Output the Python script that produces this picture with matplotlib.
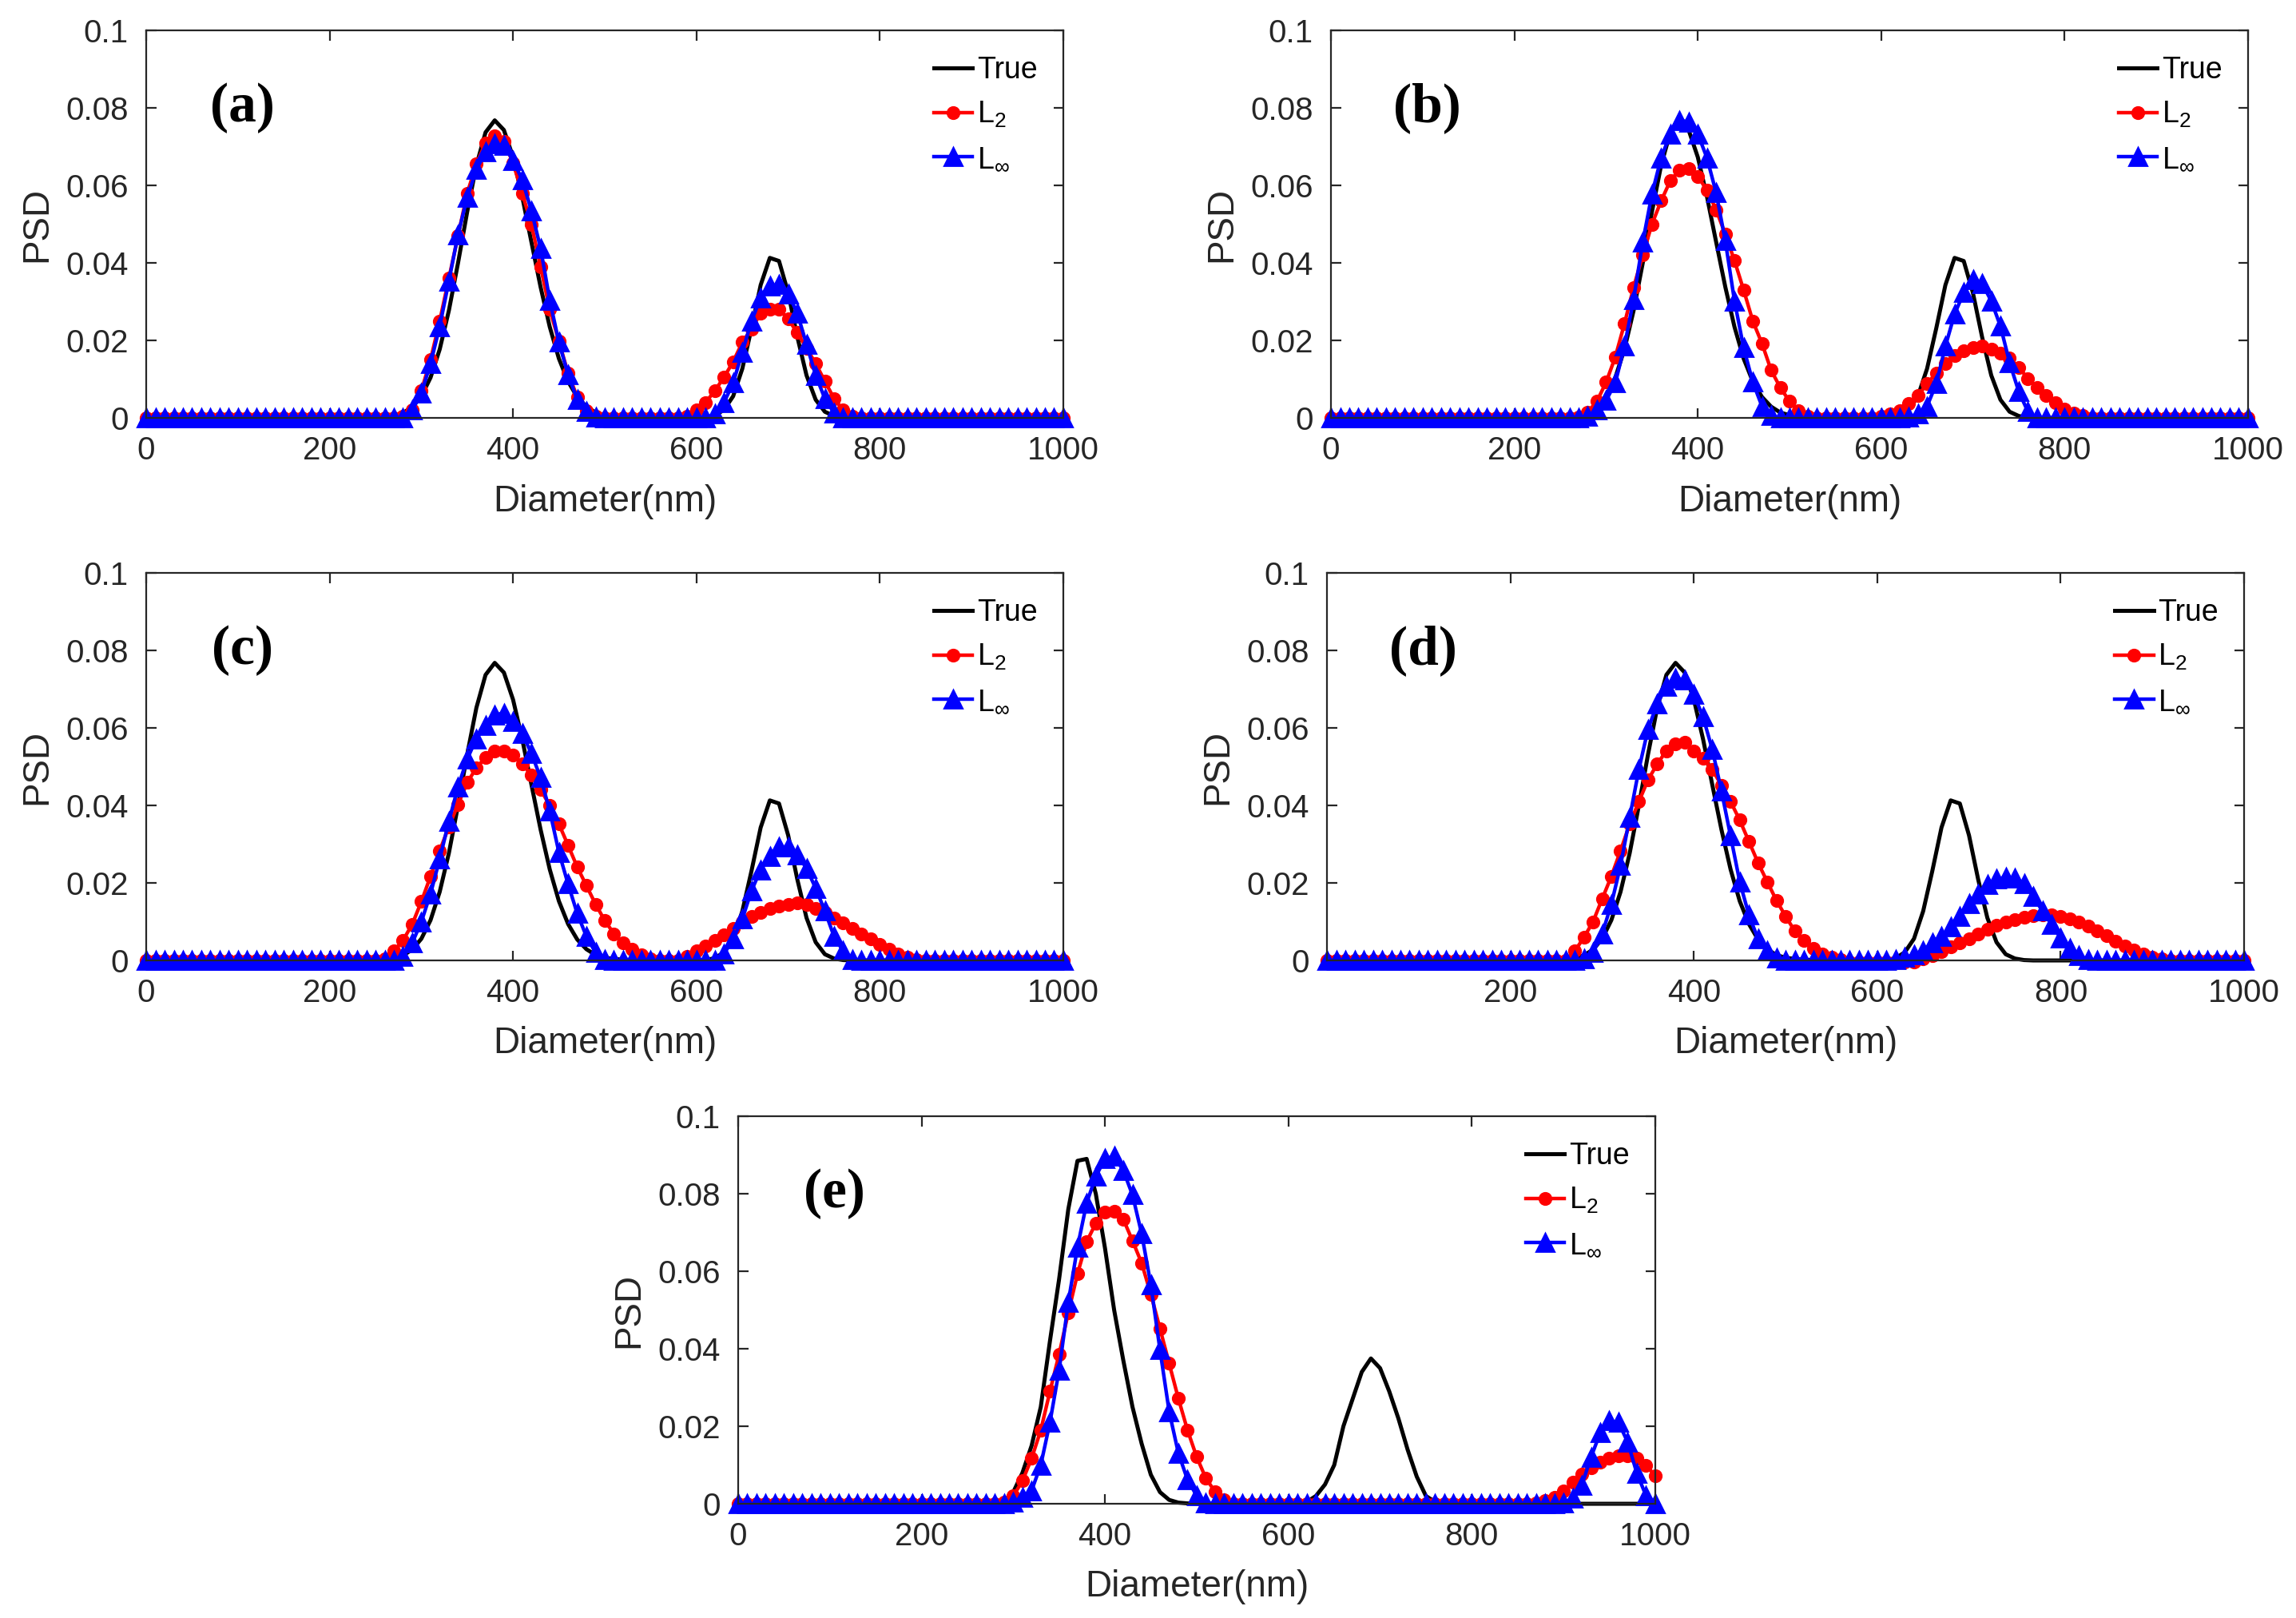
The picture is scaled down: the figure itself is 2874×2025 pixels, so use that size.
import matplotlib.pyplot as plt
import numpy as np

# diameter grid (nm), one point every 10 nm
diameter = np.arange(0, 1001, 10)

# True PSD, panels (a)-(d)
true_ad = ([0.0] * 26 +
           [0.0002, 0.0006, 0.0013, 0.0028, 0.0056, 0.0104, 0.0177, 0.0277, 0.0400, 0.0532,
            0.0652, 0.0737, 0.0768, 0.0743, 0.0673, 0.0571, 0.0454, 0.0338, 0.0235, 0.0153,
            0.0094, 0.0054, 0.0029, 0.0014, 0.0007, 0.0004, 0.0002, 0.0001] +
           [0.0] * 7 +
           [0.0001, 0.0006, 0.0021, 0.0056, 0.0127, 0.0231, 0.0343, 0.0413, 0.0405, 0.0323,
            0.0209, 0.0110, 0.0047, 0.0016, 0.0005, 0.0001] +
           [0.0] * 24)

# True PSD, panel (e)
true_e = ([0.0] * 28 +
          [0.0001, 0.0005, 0.0030, 0.0080, 0.0150, 0.0250, 0.0420, 0.0580, 0.0760, 0.0885,
           0.0890, 0.0800, 0.0660, 0.0500, 0.0370, 0.0250, 0.0155, 0.0075, 0.0030, 0.0010,
           0.0003, 0.0001] +
          [0.0] * 12 +
          [0.0005, 0.0020, 0.0050, 0.0100, 0.0200, 0.0270, 0.0340, 0.0375, 0.0350, 0.0290,
           0.0220, 0.0140, 0.0070, 0.0020, 0.0005] +
          [0.0] * 24)

# L2 inversion
l2_a = ([0.0] * 28 +
        [0.0005, 0.002, 0.007, 0.015, 0.025, 0.036, 0.047, 0.058, 0.0655, 0.071,
         0.0727, 0.0713, 0.0658, 0.058, 0.050, 0.039, 0.028, 0.0198, 0.0115, 0.0054,
         0.0018, 0.0004] +
        [0.0] * 9 +
        [0.0005, 0.002, 0.004, 0.007, 0.0105, 0.0145, 0.0195, 0.023, 0.027, 0.028,
         0.028, 0.0255, 0.022, 0.018, 0.014, 0.0095, 0.005, 0.002, 0.0005] +
        [0.0] * 23)

l2_b = ([0.0] * 27 +
        [0.0003, 0.0015, 0.0043, 0.0092, 0.0157, 0.0243, 0.0337, 0.042, 0.050, 0.056,
         0.0612, 0.064, 0.0643, 0.0623, 0.0588, 0.0537, 0.0474, 0.0406, 0.033, 0.025,
         0.0192, 0.0123, 0.0078, 0.0043, 0.0019, 0.0005] +
        [0.0] * 7 +
        [0.0005, 0.001, 0.0019, 0.0037, 0.0057, 0.0088, 0.0116, 0.014, 0.016, 0.0174,
         0.0181, 0.0185, 0.0178, 0.0168, 0.0154, 0.013, 0.0102, 0.0078, 0.0057, 0.004,
         0.0023, 0.0012, 0.0006] +
        [0.0] * 18)

l2_c = ([0.0] * 26 +
        [0.0005, 0.0024, 0.0052, 0.0093, 0.0152, 0.0217, 0.0283, 0.0345, 0.0403, 0.0459,
         0.0497, 0.0524, 0.0541, 0.0541, 0.0531, 0.0507, 0.0479, 0.0441, 0.040, 0.0352,
         0.0297, 0.0241, 0.0193, 0.0145, 0.0103, 0.0069, 0.0045, 0.0028, 0.0014, 0.0005] +
        [0.0] * 3 +
        [0.001, 0.0024, 0.0038, 0.0052, 0.0066, 0.0083, 0.010, 0.0114, 0.0124, 0.0134,
         0.0141, 0.0145, 0.0148, 0.0145, 0.0134, 0.0124, 0.011, 0.0097, 0.0083, 0.0069,
         0.0055, 0.0041, 0.0028, 0.0017, 0.0009, 0.0003] +
        [0.0] * 16)

l2_d = ([0.0] * 27 +
        [0.0024, 0.0059, 0.010, 0.0159, 0.0217, 0.0283, 0.0352, 0.041, 0.0466, 0.0507,
         0.0541, 0.0559, 0.0562, 0.0541, 0.0521, 0.0493, 0.0452, 0.041, 0.0362, 0.0307,
         0.0252, 0.0203, 0.0155, 0.0114, 0.0076, 0.0052, 0.0031, 0.0017, 0.0009, 0.0003] +
        [-0.0005] * 8 +
        [0.0004, 0.0012, 0.0022, 0.0035, 0.0045, 0.0056, 0.0068, 0.008, 0.009, 0.0099,
         0.0106, 0.0111, 0.0115, 0.0117, 0.0117, 0.0114, 0.0108, 0.0099, 0.0089, 0.0076,
         0.0064, 0.005, 0.0038, 0.0027, 0.0017, 0.0009, 0.0004] +
        [0.0] * 9)

l2_e = ([0.0] * 29 +
        [0.0005, 0.002, 0.0059, 0.0117, 0.019, 0.029, 0.0386, 0.0493, 0.0593, 0.0676,
         0.0724, 0.0752, 0.0755, 0.0734, 0.0679, 0.0621, 0.0541, 0.0452, 0.0362, 0.0272,
         0.019, 0.0121, 0.0066, 0.0031, 0.001] +
        [0.0] * 33 +
        [0.0003, 0.0008, 0.0017, 0.0034, 0.0055, 0.0076, 0.0093, 0.0107, 0.0117, 0.0124,
         0.0124, 0.0117, 0.010, 0.0072])

# L-infinity inversion
linf_a = ([0.0] * 29 +
          [0.002, 0.0064, 0.014, 0.0236, 0.0353, 0.0473, 0.0569, 0.0641, 0.0686, 0.0707,
           0.0703, 0.0665, 0.0614, 0.0535, 0.0438, 0.0304, 0.0195, 0.0112, 0.0047, 0.0016,
           0.0003] +
          [0.0] * 12 +
          [0.001, 0.004, 0.009, 0.017, 0.025, 0.031, 0.034, 0.0345, 0.032, 0.027,
           0.019, 0.011, 0.005, 0.0013] +
          [0.0] * 25)

linf_b = ([0.0] * 28 +
          [0.0005, 0.002, 0.0045, 0.009, 0.0185, 0.0306, 0.0454, 0.0578, 0.0671, 0.0733,
           0.0768, 0.0764, 0.0733, 0.0671, 0.0581, 0.0457, 0.0302, 0.0181, 0.0092, 0.003,
           0.0006] +
          [0.0] * 14 +
          [0.0003, 0.001, 0.003, 0.0088, 0.0185, 0.0268, 0.0323, 0.0357, 0.0347, 0.0302,
           0.0237, 0.0143, 0.0068, 0.0016] +
          [0.0] * 24)

linf_c = ([0.0] * 28 +
          [0.001, 0.0045, 0.010, 0.0172, 0.0262, 0.0359, 0.0448, 0.052, 0.0572, 0.0607,
           0.0634, 0.0638, 0.0617, 0.0586, 0.0534, 0.0472, 0.0386, 0.0279, 0.0197, 0.0121,
           0.0062, 0.002, 0.0003] +
          [0.0] * 12 +
          [0.0017, 0.0055, 0.0107, 0.018, 0.0234, 0.0269, 0.0293, 0.0293, 0.0272, 0.0238,
           0.0186, 0.0128, 0.0062, 0.0024, 0.0003] +
          [0.0] * 23)

linf_d = ([0.0] * 28 +
          [0.0005, 0.002, 0.0069, 0.0145, 0.0245, 0.0369, 0.0493, 0.0597, 0.0662, 0.0707,
           0.0728, 0.0724, 0.0686, 0.0628, 0.0545, 0.0438, 0.0321, 0.0203, 0.0117, 0.0055,
           0.0024, 0.0007] +
          [0.0] * 12 +
          [0.0003, 0.0008, 0.0015, 0.0024, 0.0045, 0.0062, 0.0086, 0.0114, 0.0147, 0.0172,
           0.0195, 0.021, 0.0214, 0.0212, 0.0198, 0.0165, 0.0128, 0.0093, 0.0058, 0.003,
           0.0012, 0.0003] +
          [0.0] * 17)

linf_e = ([0.0] * 30 +
          [0.0005, 0.0017, 0.0034, 0.010, 0.021, 0.0345, 0.052, 0.0662, 0.0776, 0.0845,
           0.089, 0.0897, 0.086, 0.0797, 0.0697, 0.0566, 0.0397, 0.0238, 0.0131, 0.0062,
           0.0021, 0.0003] +
          [0.0] * 38 +
          [0.0003, 0.0014, 0.0048, 0.012, 0.0183, 0.0214, 0.021, 0.0159, 0.0079, 0.0021,
           0.0])

panel_tags = ["(a)", "(b)", "(c)", "(d)", "(e)"]
true_series = [true_ad, true_ad, true_ad, true_ad, true_e]
l2_series = [l2_a, l2_b, l2_c, l2_d, l2_e]
linf_series = [linf_a, linf_b, linf_c, linf_d, linf_e]

x_ticks = [0, 200, 400, 600, 800, 1000]
x_ticks_d = [200, 400, 600, 800, 1000]
y_ticks = [0, 0.02, 0.04, 0.06, 0.08, 0.1]
y_tick_labels = ["0", "0.02", "0.04", "0.06", "0.08", "0.1"]

plt.rcParams['font.family'] = ['Liberation Sans', 'DejaVu Sans']
plt.rcParams['mathtext.fontset'] = 'custom'
plt.rcParams['mathtext.rm'] = 'Liberation Sans'
plt.rcParams['mathtext.it'] = 'Liberation Sans'

fig = plt.figure(figsize=(14.37, 10.125), dpi=200)

# axes boxes [left, bottom, width, height] in figure fraction
boxes = [
    [0.0637, 0.7417, 0.3994, 0.2395],
    [0.5797, 0.7417, 0.3994, 0.2395],
    [0.0637, 0.4064, 0.3994, 0.2395],
    [0.5780, 0.4064, 0.3994, 0.2395],
    [0.3215, 0.0706, 0.3994, 0.2395],
]

axis_col = '#262626'

for i, box in enumerate(boxes):
    ax = fig.add_axes(box)
    ax.plot(diameter, true_series[i], color='black', lw=1.8, label='True',
            clip_on=False)
    ax.plot(diameter, l2_series[i], color='red', lw=1.6, marker='o', ms=5.2,
            mec='red', mfc='red', label=r'L$_2$', clip_on=False)
    ax.plot(diameter, linf_series[i], color='blue', lw=1.6, marker='^', ms=7.8,
            mec='blue', mfc='blue', label=r'L$_\infty$', clip_on=False)

    ax.set_xlim(0, 1000)
    ax.set_ylim(0, 0.1)
    ax.set_xticks(x_ticks_d if i == 3 else x_ticks)
    ax.set_yticks(y_ticks)
    ax.set_yticklabels(y_tick_labels)
    ax.tick_params(direction='in', top=True, right=True, length=4.5, width=0.8,
                   labelsize=14.5, colors=axis_col, pad=8)
    for sp in ax.spines.values():
        sp.set_color(axis_col)
        sp.set_linewidth(0.8)

    ax.set_xlabel('Diameter(nm)', fontsize=16.5, color=axis_col, labelpad=8)
    ax.set_ylabel('PSD', fontsize=16.5, color=axis_col, labelpad=5)

    ax.text(105, 0.08, panel_tags[i], fontsize=25, fontweight='bold',
            family='Liberation Serif', ha='center', va='center')

    ax.legend(loc='upper right', bbox_to_anchor=(0.985, 0.965), frameon=False,
              fontsize=13.5, handlelength=1.3, handletextpad=0.15,
              labelspacing=0.5, borderaxespad=0.0)

fig.savefig('out.png', dpi=200)
